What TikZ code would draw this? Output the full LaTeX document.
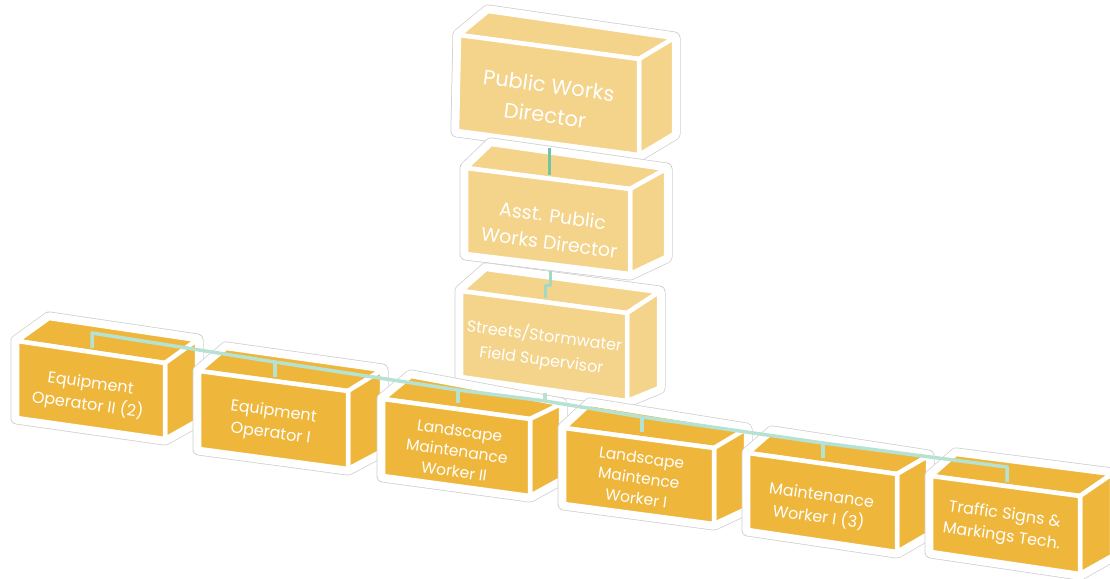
\documentclass[tikz,border=0pt]{standalone}
\usepackage{fontspec}
\setmainfont{Poppins}
\definecolor{lite}{HTML}{F4D38A}
\definecolor{dark}{HTML}{EEB73C}
\definecolor{conA}{HTML}{6FC5A4}
\definecolor{conB}{HTML}{A2D9C5}
\definecolor{conC}{HTML}{B6E2D4}
\definecolor{haloline}{HTML}{CFCFCF}
\newcommand{\prism}[9]{%
  \coordinate (#1A) at #3; \coordinate (#1B) at #4; \coordinate (#1C) at #5; \coordinate (#1D) at #6;
  \coordinate (#1E) at #7; \coordinate (#1F) at #8; \coordinate (#1G) at #9;
  \draw[haloout] (#1A)--(#1D)--(#1C)--(#1G)--(#1F)--(#1E)--cycle;
  \filldraw[haloin] (#1A)--(#1D)--(#1C)--(#1G)--(#1F)--(#1E)--cycle;
  \filldraw[face,fill=#2] (#1A)--(#1E)--(#1F)--(#1B)--cycle;
  \filldraw[face,fill=#2] (#1B)--(#1F)--(#1G)--(#1C)--cycle;
  \filldraw[face,fill=#2] (#1A)--(#1B)--(#1C)--(#1D)--cycle;
}
\tikzset{
  haloout/.style={draw=haloline, line width=13pt},
  haloin/.style={draw=white, fill=white, line width=11.5pt},
  face/.style={draw=white, line width=4.5pt},
  txtT/.style={text=white, align=center, rotate=-7.5, inner sep=0pt},
  txtB/.style={text=white, align=center, rotate=-8, inner sep=0pt},
  connA/.style={draw=conA, line width=3pt},
  connB/.style={draw=conB, line width=3pt},
  connC/.style={draw=conC, line width=3.5pt},
}
\begin{document}
\begin{tikzpicture}[x=1pt, y=-1pt, line join=round]
\useasboundingbox (0,0) rectangle (1110,578);
\clip (0,0) rectangle (1110,578);
% top boxes
\prism{pwd}{lite}{(459,35)}{(639,59)}{(639,155)}{(457,131)}{(488,11)}{(674,38)}{(674,134)}
\prism{asst}{lite}{(466,168)}{(630,189)}{(630,274)}{(466,254)}{(491,144)}{(666,169)}{(666,257)}
\prism{str}{lite}{(461,291)}{(627,313)}{(627,401)}{(461,377)}{(486,269)}{(659,292)}{(659,388)}
% bottom row
\prism{eq2}{dark}{(17,341)}{(165,363)}{(165,439)}{(17,418)}{(49,318)}{(197,340)}{(197,421)}
\prism{eq1}{dark}{(199,371)}{(348,391)}{(348,469)}{(199,449)}{(226,348)}{(382,370)}{(382,451)}
\prism{lm2}{dark}{(383,399)}{(530,419)}{(530,496)}{(383,476)}{(411,376)}{(561,404)}{(561,479)}
\prism{lm1}{dark}{(564,428)}{(714,448)}{(714,524)}{(564,504)}{(590,404)}{(746,429)}{(746,509)}
\prism{mw1}{dark}{(748,453)}{(897,474)}{(897,552)}{(748,530)}{(772,432)}{(928,456)}{(928,534)}
\prism{tst}{dark}{(931,476)}{(1080,496)}{(1080,574)}{(931,552)}{(956,454)}{(1112,474)}{(1112,556)}
% texts
\node[txtT, font=\fontsize{21}{30}\selectfont] (tpwd) at (547,100) {Public Works\\Director};
\node[txtT, font=\fontsize{19}{27}\selectfont] (tasst) at (551,229) {Asst. Public\\Works Director};
\node[txtT, font=\fontsize{16}{24}\selectfont] (tstr) at (543,348) {Streets/Stormwater\\Field Supervisor};
\node[txtB, font=\fontsize{16}{22}\selectfont] (teq2) at (89,395) {Equipment\\Operator II (2)};
\node[txtB, font=\fontsize{16}{22}\selectfont] (teq1) at (272,423) {Equipment\\Operator I};
\node[txtB, font=\fontsize{15.5}{20.5}\selectfont] (tlm2) at (457,451) {Landscape\\Maintenance\\Worker II};
\node[txtB, font=\fontsize{15.5}{20.5}\selectfont] (tlm1) at (639,478) {Landscape\\Maintence\\Worker I};
\node[txtB, font=\fontsize{16}{22}\selectfont] (tmw1) at (820,507) {Maintenance\\Worker I (3)};
\node[txtB, font=\fontsize{16}{22}\selectfont] (ttst) at (1003,526) {Traffic Signs \&\\Markings Tech.};
% connectors
\coordinate (c1a) at (549,148); \coordinate (c1b) at (549,175);
\draw[connA] (c1a) -- (c1b);
\coordinate (c2a) at (550,271); \coordinate (c2b) at (550,285);
\coordinate (c2c) at (545,285); \coordinate (c2d) at (545,298);
\draw[connB] (c2a) -- (c2b) -- (c2c) -- (c2d);
\coordinate (c3a) at (545,393);
\coordinate (j1) at (92,333); \coordinate (j2) at (275,362); \coordinate (j3) at (458,390);
\coordinate (j4) at (545,401); \coordinate (j5) at (642,417); \coordinate (j6) at (823,443);
\coordinate (j7) at (1007,467);
\coordinate (s1) at (92,348); \coordinate (s2) at (275,377); \coordinate (s3) at (458,403);
\coordinate (s5) at (642,432); \coordinate (s6) at (823,458); \coordinate (s7) at (1007,482);
\draw[connC] (c3a) -- (j4);
\draw[connC] (s1) -- (j1) -- (j2) -- (j3) -- (j4) -- (j5) -- (j6) -- (j7) -- (s7);
\draw[connC] (j2) -- (s2);
\draw[connC] (j3) -- (s3);
\draw[connC] (j5) -- (s5);
\draw[connC] (j6) -- (s6);
\end{tikzpicture}
\end{document}
